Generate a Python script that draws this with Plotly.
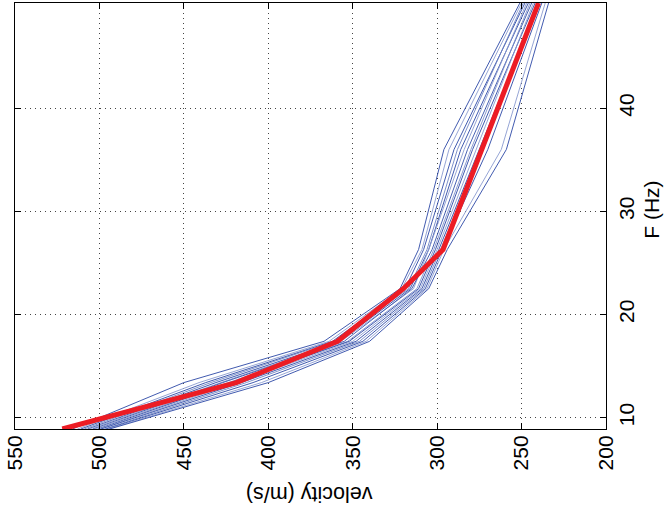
import plotly.graph_objects as go

# Frequencies (Hz) at which the curves are sampled
freq = [8.9, 13.4, 17.4, 22.5, 26.3, 36.0, 50.2]

# Individual (blue) dispersion curves: velocity (m/s) at each frequency
blue_curves = [
    [516, 450, 367, 322, 311, 296, 251],
    [513, 441, 364, 321, 309, 293, 250],
    [511, 437, 362, 319, 308, 290, 248],
    [509, 434, 361, 317, 306, 288, 249],
    [507, 431, 358, 316, 305, 286, 246],
    [506, 428, 357, 314, 305, 284, 247],
    [504, 427, 355, 315, 303, 282, 244],
    [503, 424, 353, 312, 302, 280, 245],
    [501, 422, 352, 311, 301, 279, 242],
    [500, 419, 350, 310, 300, 277, 243],
    [499, 416, 348, 309, 299, 275, 240],
    [497, 413, 346, 308, 298, 273, 239],
    [496, 409, 344, 307, 297, 270, 238],
    [495, 404, 342, 306, 296, 262, 236],
    [494, 400, 340, 305, 294, 259, 234],
]
blue_colors = ["#2b47a6", "#8a9bd0", "#2b47a6", "#6f84c4", "#2b47a6",
               "#8a9bd0", "#3450aa", "#7f91cb", "#2b47a6", "#8a9bd0",
               "#2b47a6", "#7186c5", "#2b47a6", "#8a9bd0", "#2b47a6"]

# Mean (red) curve
red_curve = [522, 419, 359, 320, 296.5, 273.5, 240]

x_ticks = [200, 250, 300, 350, 400, 450, 500, 550]
y_ticks = [10, 20, 30, 40]

fig = go.Figure()
for vals, col in zip(blue_curves, blue_colors):
    fig.add_trace(go.Scatter(x=vals, y=freq, mode="lines",
                             line=dict(color=col, width=0.9), showlegend=False))
fig.add_trace(go.Scatter(x=red_curve, y=freq, mode="lines",
                         line=dict(color="#ec1c24", width=5), showlegend=False))

font_family = "Liberation Sans, Arial, sans-serif"
axis_common = dict(
    tickangle=-90, ticks="inside", ticklen=6, tickcolor="black",
    showline=True, linecolor="black", linewidth=1, mirror="ticks",
    showgrid=True, gridcolor="#444444", griddash="1px,4px", gridwidth=1,
    zeroline=False, tickfont=dict(size=21), automargin=False,
)
fig.update_layout(
    width=667, height=516,
    margin=dict(l=15, r=61, t=3, b=87),
    plot_bgcolor="white", paper_bgcolor="white",
    font=dict(family=font_family, size=21, color="black"),
    showlegend=False,
    xaxis=dict(range=[550, 200], tickvals=x_ticks, ticktext=[str(v) for v in x_ticks],
               ticklabelstandoff=-3, **axis_common),
    yaxis=dict(range=[8.9, 50.2], tickvals=y_ticks, side="right",
               ticklabelstandoff=2, **axis_common),
    annotations=[
        dict(text="velocity (m/s)", xref="paper", yref="paper", x=0.497, y=-0.152,
             xanchor="center", yanchor="middle",
             showarrow=False, textangle=180, font=dict(size=21.5)),
        dict(text="F (Hz)", xref="paper", yref="paper", x=1.078, y=0.515,
             xanchor="center", yanchor="middle",
             showarrow=False, textangle=-90, font=dict(size=21)),
    ],
)

fig.write_html("out.html", config={"displayModeBar": False},
               post_script="document.body.style.margin='0';")
